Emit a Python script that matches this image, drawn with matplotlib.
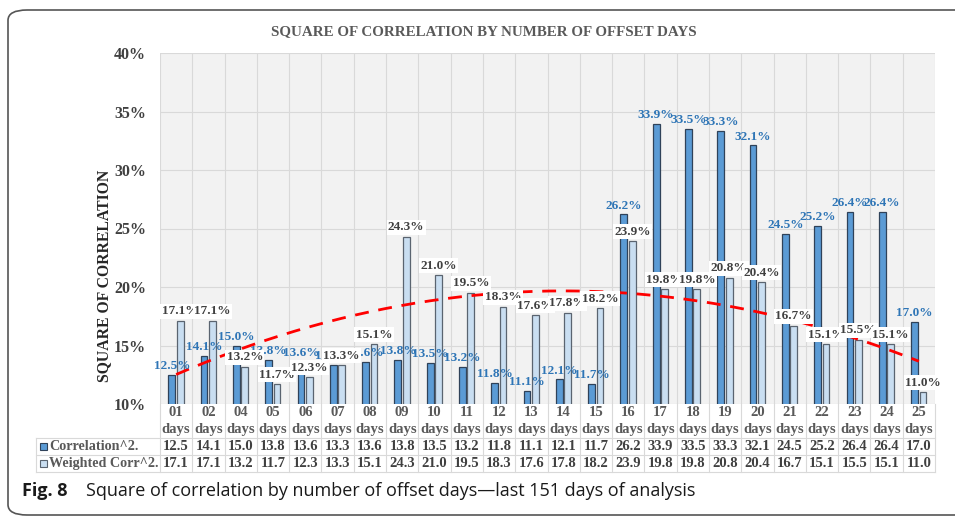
import numpy as np
import matplotlib.pyplot as plt
import matplotlib.transforms as mtransforms
from matplotlib.patches import FancyBboxPatch, Rectangle
from matplotlib.lines import Line2D

# ── data ─────────────────────────────────────────────────────────────────
DAYS = ["01", "02", "04", "05", "06", "07", "08", "09", "10", "11", "12", "13",
        "14", "15", "16", "17", "18", "19", "20", "21", "22", "23", "24", "25"]
CORR = [12.5, 14.1, 15.0, 13.8, 13.6, 13.3, 13.6, 13.8, 13.5, 13.2, 11.8, 11.1,
        12.1, 11.7, 26.2, 33.9, 33.5, 33.3, 32.1, 24.5, 25.2, 26.4, 26.4, 17.0]
WCORR = [17.1, 17.1, 13.2, 11.7, 12.3, 13.3, 15.1, 24.3, 21.0, 19.5, 18.3, 17.6,
         17.8, 18.2, 23.9, 19.8, 19.8, 20.8, 20.4, 16.7, 15.1, 15.5, 15.1, 11.0]
ROW_NAMES = ["Correlation^2.", "Weighted Corr^2."]
YTICKS = [10, 15, 20, 25, 30, 35, 40]

W, H = 955, 517
DARK = "#5b9bd5"
LIGHT = "#c9def1"
SERIF = "Liberation Serif"

plt.rcParams["font.family"] = SERIF
plt.rcParams["hatch.color"] = "#e2e2e2"
plt.rcParams["hatch.linewidth"] = 0.5

fig = plt.figure(figsize=(W / 100, H / 100), dpi=100)
fig.patch.set_facecolor("white")


def fx(px):
    return px / W


def fy(py):
    return 1 - py / H


# outer rounded frame (runs off the right edge like the figure in the paper)
frame = FancyBboxPatch((fx(8), fy(515)), fx(1300 - 8), fy(10) - fy(515),
                       boxstyle="round,pad=0,rounding_size=0.02",
                       transform=fig.transFigure, fill=False,
                       edgecolor="#555555", linewidth=1.2, clip_on=False)
fig.add_artist(frame)

AX_L, AX_R, AX_T, AX_B = 160, 935, 53, 404
ax = fig.add_axes([fx(AX_L), fy(AX_B), fx(AX_R - AX_L), fy(AX_T) - fy(AX_B)])
ax.set_facecolor("#f2f2f2")
bg = Rectangle((0, 0), 1, 1, transform=ax.transAxes, facecolor="none",
               edgecolor="none", hatch="//////", zorder=0)
ax.add_patch(bg)

x = np.arange(len(DAYS))
bw = 0.21
ax.bar(x - 0.135, CORR, bw, color=DARK, edgecolor="#2f4259", linewidth=0.9, zorder=3)
ax.bar(x + 0.125, WCORR, bw, color=LIGHT, edgecolor="#5a6470", linewidth=0.9, zorder=3)

# polynomial (order 2) trendline of the weighted series
coef = np.polyfit(x, WCORR, 2)
xt = np.linspace(0, len(DAYS) - 1, 200)
ax.plot(xt, np.polyval(coef, xt), color="#ff0000", linewidth=2.0,
        dashes=(5, 3.5), zorder=4)

for i in range(len(DAYS)):
    ax.text(x[i] - 0.135, CORR[i] + 0.25, f"{CORR[i]:.1f}%", ha="center", va="bottom",
            fontsize=9.5, fontweight="bold", color="#2e75b6", zorder=5)
for i in range(len(DAYS)):
    ax.text(x[i] + 0.125, WCORR[i] + 0.3, f"{WCORR[i]:.1f}%", ha="center", va="bottom",
            fontsize=9.5, fontweight="bold", color="#404040", zorder=6,
            bbox=dict(facecolor="white", edgecolor="none", pad=1.0))

ax.set_xlim(-0.5, len(DAYS) - 0.5)
ax.set_ylim(10, 40)
ax.set_yticks(YTICKS)
ax.set_yticklabels([f"{v}%" for v in YTICKS], fontsize=11.5, fontweight="bold",
                   color="#404040")
ax.set_xticks([])
ax.tick_params(axis="y", length=0, pad=10)
for s in ax.spines.values():
    s.set_visible(False)
for v in YTICKS:
    ax.axhline(v, color="#d9d9d9", linewidth=0.8, zorder=1)
for b in np.arange(-0.5, len(DAYS), 1.0):
    ax.axvline(b, color="#d9d9d9", linewidth=0.8, zorder=1)

# ── data table underneath ────────────────────────────────────────────────
ah = AX_B - AX_T
aw = AX_R - AX_L
bt = mtransforms.blended_transform_factory(ax.transData, ax.transAxes)


def ay(py):
    return (AX_B - py) / ah


def axx(px):
    return (px - AX_L) / aw


GRID = "#d9d9d9"
TFS = 10.5
row_y = [438, 455, 472]
for i in range(len(DAYS) + 1):
    ax.add_line(Line2D([i - 0.5, i - 0.5], [ay(AX_B), ay(472)], transform=bt,
                       color=GRID, linewidth=0.8, clip_on=False))
for py in row_y:
    ax.add_line(Line2D([axx(36), 1], [ay(py), ay(py)], transform=ax.transAxes,
                       color=GRID, linewidth=0.8, clip_on=False))
ax.add_line(Line2D([axx(36), axx(36)], [ay(438), ay(472)], transform=ax.transAxes,
                   color=GRID, linewidth=0.8, clip_on=False))

for i, d in enumerate(DAYS):
    ax.text(x[i], ay(413), d, transform=bt, ha="center", va="center",
            fontsize=TFS, fontweight="bold", color="#595959", clip_on=False)
    ax.text(x[i], ay(429), "days", transform=bt, ha="center", va="center",
            fontsize=TFS, fontweight="bold", color="#595959", clip_on=False)
    ax.text(x[i], ay(446.5), f"{CORR[i]:.1f}", transform=bt, ha="center",
            va="center", fontsize=TFS, fontweight="bold", color="#404040", clip_on=False)
    ax.text(x[i], ay(463.5), f"{WCORR[i]:.1f}", transform=bt, ha="center",
            va="center", fontsize=TFS, fontweight="bold", color="#404040", clip_on=False)

for k, (name, col, ec) in enumerate(zip(ROW_NAMES, [DARK, LIGHT], ["#2f4259", "#5a6470"])):
    yc = [446.5, 463.5][k]
    ax.add_patch(Rectangle((axx(40), ay(yc + 3.5)), axx(47) - axx(40), ay(yc - 3.5) - ay(yc + 3.5),
                           transform=ax.transAxes, facecolor=col, edgecolor=ec,
                           linewidth=0.8, clip_on=False))
    ax.text(axx(49), ay(yc), name, transform=ax.transAxes, ha="left", va="center",
            fontsize=10.2, fontweight="bold", color="#595959", clip_on=False)

# titles
fig.text(fx(484), fy(32), "SQUARE OF CORRELATION BY NUMBER OF OFFSET DAYS",
         ha="center", va="center", fontsize=10.8, fontweight="bold", color="#595959")
fig.text(fx(104), fy(276), "SQUARE OF CORRELATION", ha="center", va="center",
         rotation=90, fontsize=11.3, fontweight="bold", color="#262626")

# caption
fig.text(fx(22), fy(491), "Fig. 8", ha="left", va="center", fontsize=13,
         fontweight="bold", family="Open Sans", color="#1a1a1a")
fig.text(fx(86), fy(491),
         "Square of correlation by number of offset days\u2014last 151 days of analysis",
         ha="left", va="center", fontsize=13, family="Open Sans", color="#1a1a1a")

fig.savefig("out.png", dpi=100)
